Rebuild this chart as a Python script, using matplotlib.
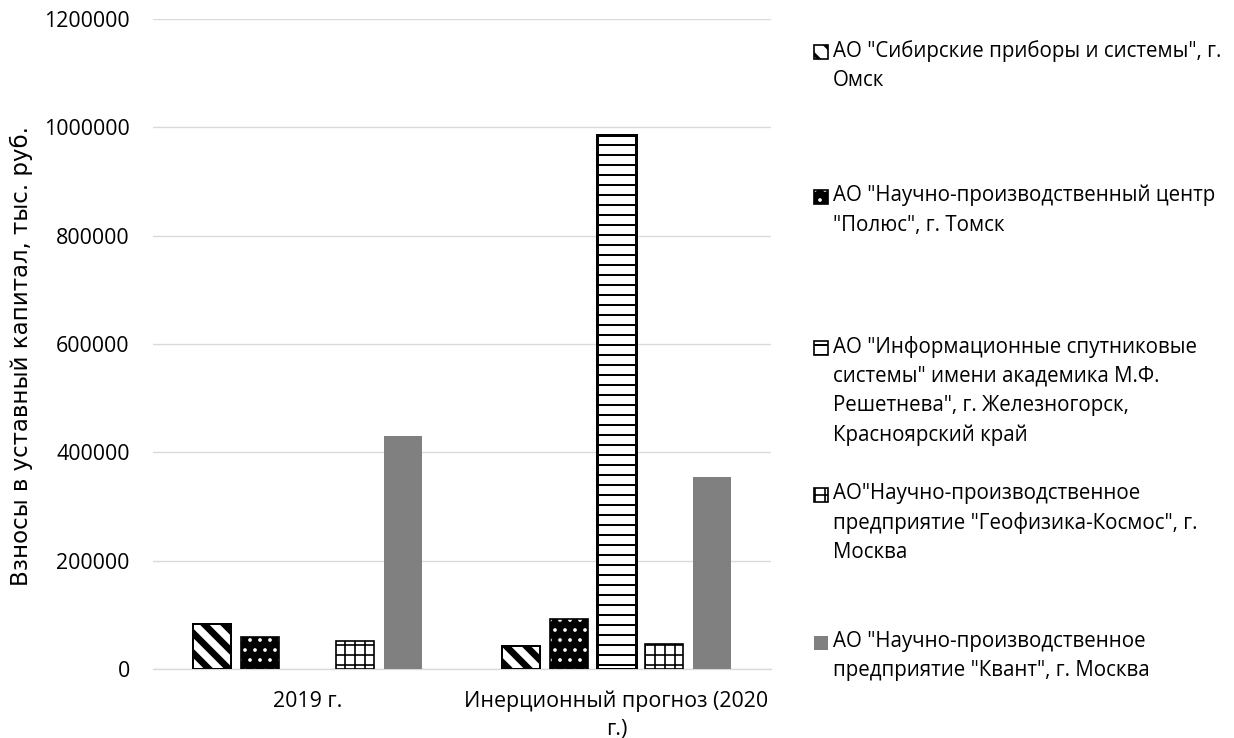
import matplotlib
matplotlib.use('Agg')
import matplotlib.pyplot as plt
from matplotlib.patches import Rectangle
import numpy as np

# ---------------- data ----------------
categories = ['2019 г.', 'Инерционный прогноз (2020\nг.)']
series_names = [
    'АО "Сибирские приборы и системы", г.\nОмск',
    'АО "Научно-производственный центр\n"Полюс", г. Томск',
    'АО "Информационные спутниковые\nсистемы" имени академика М.Ф.\nРешетнева", г. Железногорск,\nКрасноярский край',
    'АО"Научно-производственное\nпредприятие "Геофизика-Космос", г.\nМосква',
    'АО "Научно-производственное\nпредприятие "Квант", г. Москва',
]
sibpribory = [82500, 43000]
polyus = [58500, 92300]
iss_reshetnev = [0, 985000]
geofizika = [51000, 46700]
kvant = [431000, 355000]
y_ticks = [0, 200000, 400000, 600000, 800000, 1000000, 1200000]
y_label = 'Взносы в уставный капитал, тыс. руб.'

series_values = [sibpribory, polyus, iss_reshetnev, geofizika, kvant]

# ---------------- styles ----------------
styles = [
    dict(face='white', hatch='\\\\', hcolor='black', edge='black', lw=1.2, hlw=4.0),
    dict(face='black', hatch='..', hcolor='white', edge='black', lw=1.0, hlw=1.0),
    dict(face='white', hatch='--', hcolor='black', edge='black', lw=1.8, hlw=1.2),
    dict(face='white', hatch='++', hcolor='black', edge='black', lw=1.0, hlw=1.0),
    dict(face='#808080', hatch=None, hcolor='black', edge=None, lw=0, hlw=1.0),
]

DPI = 120
W, H = 1234, 738
plt.rcParams['font.family'] = ['Open Sans', 'DejaVu Sans']
fig = plt.figure(figsize=(W / DPI, H / DPI), dpi=DPI)

ax_l, ax_r, ax_b, ax_t = 153, 771, 669, 19
ax = fig.add_axes([ax_l / W, 1 - ax_b / H, (ax_r - ax_l) / W, (ax_b - ax_t) / H])

x = np.arange(len(categories))
slot = 0.1553
bw = 0.123
n = len(series_values)


def draw_bars(ax, xs, vals, st, width):
    with plt.rc_context({'hatch.linewidth': st['hlw'], 'hatch.color': st['hcolor']}):
        lws = [0 if v == 0 else st['lw'] for v in vals]
        if st['face'] == 'black':
            bars = ax.bar(xs, vals, width, color=st['face'], hatch=st['hatch'], zorder=3)
            ax.bar(xs, vals, width, fill=False, edgecolor=st['edge'], linewidth=lws, zorder=4)
        else:
            bars = ax.bar(xs, vals, width, color=st['face'],
                          edgecolor=st['edge'] if st['edge'] else 'none',
                          hatch=st['hatch'], linewidth=lws, zorder=3)
        for b in bars:
            if hasattr(b, 'set_hatch_linewidth'):
                b.set_hatch_linewidth(st['hlw'])
    return bars


for i, (vals, st) in enumerate(zip(series_values, styles)):
    draw_bars(ax, x + (i - (n - 1) / 2) * slot, vals, st, bw)

ax.set_xlim(-0.5, len(categories) - 0.5)
ax.set_ylim(y_ticks[0], y_ticks[-1])
ax.set_yticks(y_ticks)
ax.set_yticklabels([str(t) for t in y_ticks])
ax.set_xticks(x)
ax.set_xticklabels(categories, linespacing=1.44)
ax.tick_params(axis='both', length=0, labelsize=12.8, colors='black')
ax.tick_params(axis='y', pad=14)
ax.tick_params(axis='x', pad=13)
ax.grid(axis='y', color='#d9d9d9', linewidth=0.8, zorder=0)
ax.set_axisbelow(True)
for s in ['top', 'right', 'left']:
    ax.spines[s].set_visible(False)
ax.spines['bottom'].set_color('#d9d9d9')
ax.spines['bottom'].set_linewidth(0.8)
ax.spines['bottom'].set_zorder(2)

fig.text(21 / W, 1 - 356 / H, y_label, rotation=90, ha='center', va='center',
         fontsize=13.7, family=['Liberation Sans Narrow', 'DejaVu Sans'])

# ---------------- legend ----------------
legend_y = [52, 197, 348, 495, 643]
mk_x, mk_size, txt_x = 814, 14, 833
for name, st, yy in zip(series_names, styles, legend_y):
    with plt.rc_context({'hatch.linewidth': min(st['hlw'], 2.0), 'hatch.color': st['hcolor']}):
        r = Rectangle((mk_x / W, 1 - (yy + mk_size / 2) / H), mk_size / W, mk_size / H,
                      transform=fig.transFigure, facecolor=st['face'],
                      edgecolor=(st['edge'] if (st['edge'] and st['face'] != 'black') else None),
                      hatch=st['hatch'], linewidth=1.0 if st['edge'] else 0)
        fig.add_artist(r)
        if st['face'] == 'black':
            fig.add_artist(Rectangle((mk_x / W, 1 - (yy + mk_size / 2) / H), mk_size / W, mk_size / H,
                                     transform=fig.transFigure, fill=False, edgecolor='black', linewidth=1.0))
    fig.text(txt_x / W, 1 - (yy - 12) / H, name, ha='left', va='top',
             fontsize=12.3, linespacing=1.5)

fig.savefig('out.png', dpi=DPI)
